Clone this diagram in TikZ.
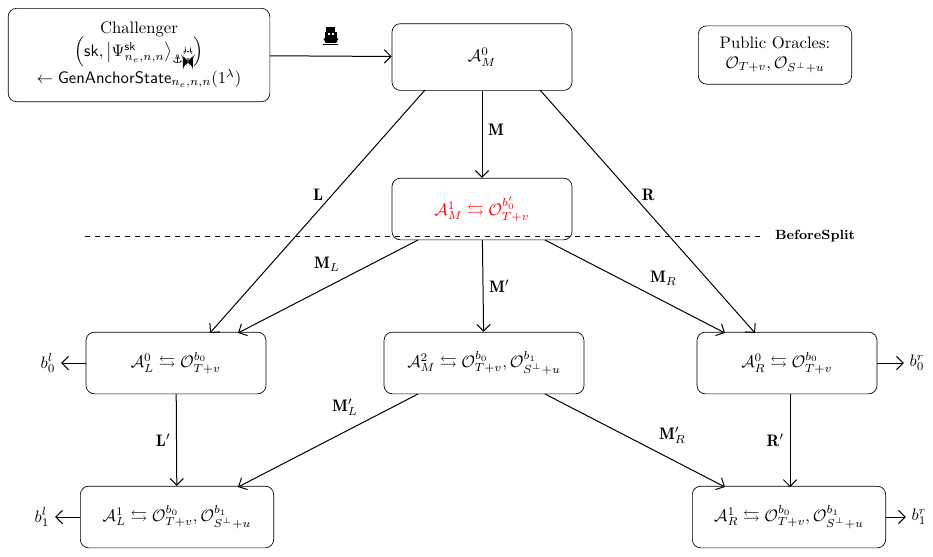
\documentclass[tikz,border=0pt]{standalone}
\usepackage{amsmath,amssymb}
\usepackage{fontspec}
\newfontfamily\djv{DejaVu Sans}
\usetikzlibrary{arrows.meta}
\newcommand{\myship}[1][1]{\begin{tikzpicture}[scale=#1,baseline=0pt,x=1pt,y=1pt]
 \fill (2,9) rectangle (8,12);
 \fill (1,4) -- (9,4) -- (9,9) -- (1,9) -- cycle;
 \fill[white] (3,7) rectangle (4.2,8.2); \fill[white] (5.8,7) rectangle (7,8.2);
 \fill (0,4.5) -- (10,4.5) -- (8.5,1.5) -- (1.5,1.5) -- cycle;
 \fill (0,0) rectangle (10,1);
 \end{tikzpicture}}
\newcommand{\myanchor}{{\djv\char"2693}}
\begin{document}
\begin{tikzpicture}[x=0.6pt,y=-0.6pt,
  box/.style={draw,rounded corners=5pt,align=center,inner sep=2pt},
  ar/.style={-{Straight Barb[length=4pt]},line width=0.6pt}]
\useasboundingbox (0,0) rectangle (933,556);
\node[box,minimum width=157pt,minimum height=56pt] (ch) at (139,55) {Challenger\\[-1pt]
 $\Big(\mathsf{sk},\big|\Psi^{\mathsf{sk}}_{n_e,n,n}\big\rangle_{\text{\scriptsize\myanchor\myship[0.6]}}\Big)$\\
 $\leftarrow \mathsf{GenAnchorState}_{n_e,n,n}(1^\lambda)$};
\node[box,minimum width=108pt,minimum height=40pt] (m0) at (482,57) {$\mathcal{A}_M^0$};
\node[box,minimum width=92pt,minimum height=35pt] (po) at (775,55) {Public Oracles:\\ $\mathcal{O}_{T+v},\mathcal{O}_{S^\perp+u}$};
\node[box,minimum width=108pt,minimum height=37pt,text=red] (m1) at (482,209) {$\mathcal{A}_M^1\leftrightarrows\mathcal{O}_{T+v}^{b_0'}$};
\node[box,minimum width=108pt,minimum height=37pt] (l0) at (176,363) {$\mathcal{A}_L^0\leftrightarrows\mathcal{O}_{T+v}^{b_0}$};
\node[box,minimum width=120pt,minimum height=37pt] (m2) at (484,363) {$\mathcal{A}_M^2\leftrightarrows\mathcal{O}_{T+v}^{b_0},\mathcal{O}_{S^\perp+u}^{b_1}$};
\node[box,minimum width=108pt,minimum height=37pt] (r0) at (787,363) {$\mathcal{A}_R^0\leftrightarrows\mathcal{O}_{T+v}^{b_0}$};
\node[box,minimum width=116pt,minimum height=37pt] (l1) at (177,517) {$\mathcal{A}_L^1\leftrightarrows\mathcal{O}_{T+v}^{b_0},\mathcal{O}_{S^\perp+u}^{b_1}$};
\node[box,minimum width=116pt,minimum height=37pt] (r1) at (789,517) {$\mathcal{A}_R^1\leftrightarrows\mathcal{O}_{T+v}^{b_0},\mathcal{O}_{S^\perp+u}^{b_1}$};
\node (bl0) at (48,363) {$b_0^l$};
\node (bl1) at (42,517) {$b_1^l$};
\node (br0) at (917,363) {$b_0^r$};
\node (br1) at (919,517) {$b_1^r$};
\node[font=\bfseries\footnotesize] (bs) at (815,236) {BeforeSplit};
\coordinate (d0) at (85,236); \coordinate (d1) at (765,236);
\draw[dashed] (d0) -- (d1);
\draw[ar] (ch) -- node[above=3pt] {\myship[0.9]} (m0);
\draw[ar] (m0) -- node[right,pos=0.45] {$\mathbf{M}$} (m1);
\coordinate (p1) at (425,90); \coordinate (p2) at (540,90);
\coordinate (lt) at (210,333); \coordinate (rt) at (755,333);
\draw[ar] (p1) -- node[left,pos=0.43,xshift=-2pt] {$\mathbf{L}$} (lt);
\draw[ar] (p2) -- node[right,pos=0.43,xshift=2pt] {$\mathbf{R}$} (rt);
\coordinate (a1) at (418,240); \coordinate (a2) at (238,333);
\coordinate (b1) at (545,240); \coordinate (b2) at (725,333);
\draw[ar] (a1) -- node[above left,pos=0.4] {$\mathbf{M}_L$} (a2);
\draw[ar] (b1) -- node[above right,pos=0.55] {$\mathbf{M}_R$} (b2);
\draw[ar] (m1) -- node[right] {$\mathbf{M}'$} (m2);
\draw[ar] (l0) -- node[left] {$\mathbf{L}'$} (l1);
\coordinate (q1) at (790,394); \coordinate (q2) at (790,487);
\draw[ar] (q1) -- node[left] {$\mathbf{R}'$} (q2);
\coordinate (c1) at (418,394); \coordinate (c2) at (238,487);
\coordinate (e1) at (545,394); \coordinate (e2) at (725,487);
\draw[ar] (c1) -- node[above left,pos=0.3] {$\mathbf{M}_L'$} (c2);
\draw[ar] (e1) -- node[above right,pos=0.6] {$\mathbf{M}_R'$} (e2);
\draw[ar] (l0) -- (bl0);
\draw[ar] (l1) -- (bl1);
\draw[ar] (r0) -- (br0);
\draw[ar] (r1) -- (br1);
\end{tikzpicture}
\end{document}
